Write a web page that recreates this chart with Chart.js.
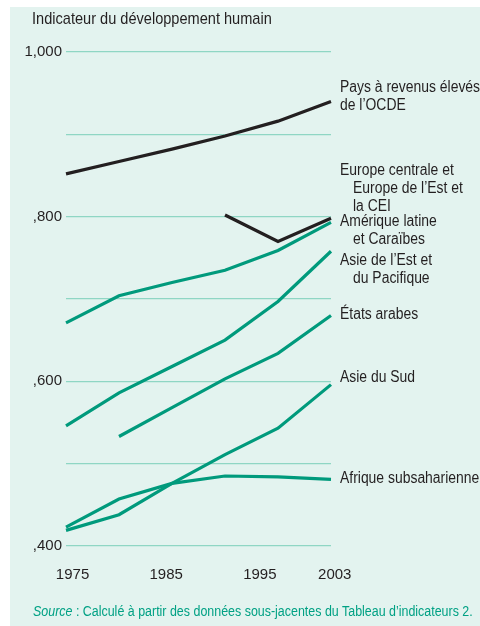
<!DOCTYPE html>
<html>
<head>
<meta charset="utf-8">
<script src="https://cdn.jsdelivr.net/npm/chart.js@4.4.1/dist/chart.umd.min.js"></script>
<style>
  html, body { margin: 0; padding: 0; background: #ffffff; }
  #wrap { position: relative; width: 480px; height: 626px; overflow: hidden; }
  #panel { position: absolute; left: 10px; top: 7px; width: 470px; height: 619px; background: #e3f3ef; }
  #chart { position: absolute; left: 0; top: 0; }
  .txt { position: absolute; font-family: "Liberation Sans", Arial, sans-serif; white-space: nowrap; transform-origin: 0 0; }
  #title { left: 32px; top: 9px; font-size: 17px; color: #231f20; }
  #source { left: 33px; top: 603px; font-size: 14px; color: #00a184; }
</style>
</head>
<body>
<div id="wrap">
  <div id="panel"></div>
  <canvas id="chart" width="480" height="626"></canvas>
  <div class="txt" id="title">Indicateur du développement humain</div>
  <div class="txt" id="source"><i>Source</i> : Calculé à partir des données sous-jacentes du Tableau d’indicateurs 2.</div>
</div>
<script>
// ---- Data ----
const years = ['1975', '1980', '1985', '1990', '1995', '2003'];
const shownYears = [1975, 1985, 1995, 2003];
const yTickValues = [0.4, 0.6, 0.8, 1.0];

const ocde          = [0.852, 0.867, 0.882, 0.898, 0.916, 0.940];
const europeCEI     = [null, null, null, 0.802, 0.770, 0.798];
const ameriqueLat   = [0.671, 0.704, 0.720, 0.735, 0.759, 0.793];
const asieEst       = [0.546, 0.586, 0.618, 0.650, 0.697, 0.758];
const etatsArabes   = [null, 0.533, 0.568, 0.603, 0.634, 0.680];
const asieSud       = [0.419, 0.438, 0.476, 0.511, 0.543, 0.596];
const afrique       = [0.423, 0.457, 0.476, 0.485, 0.484, 0.481];

const seriesNames = [
  ['Pays à revenus élevés', 'de l’OCDE'],
  ['Europe centrale et', 'Europe de l’Est et', 'la CEI'],
  ['Amérique latine', 'et Caraïbes'],
  ['Asie de l’Est et', 'du Pacifique'],
  ['États arabes'],
  ['Asie du Sud'],
  ['Afrique subsaharienne']
];

// ---- Styles / label layout (pixel offsets from each series' last point) ----
const BLACK = '#231f20';
const TEAL = '#009a7c';
const FONT = '"Liberation Sans", Arial, sans-serif';
const CONDENSE = 0.87;
const labelOffsets = [-14, -48, -1, 9, -1, -7, -1];
const labelIndent = [[0, 0], [0, 13, 13], [0, 13], [0, 13], [0], [0], [0]];

const allSeries = [ocde, europeCEI, ameriqueLat, asieEst, etatsArabes, asieSud, afrique];
const colors = [BLACK, BLACK, TEAL, TEAL, TEAL, TEAL, TEAL];

// condense the HTML title / source to the reference widths
function fitWidth(id, w) {
  const el = document.getElementById(id);
  el.style.transform = 'scaleX(' + (w / el.offsetWidth) + ')';
}
fitWidth('title', 240);
fitWidth('source', 440);

const labelPlugin = {
  id: 'endLabels',
  afterDatasetsDraw(chart) {
    const ctx = chart.ctx;
    const ys = chart.scales.y;
    const x0 = chart.chartArea.right + 9;
    ctx.save();
    ctx.font = '16px ' + FONT;
    ctx.fillStyle = BLACK;
    ctx.textBaseline = 'middle';
    ctx.textAlign = 'left';
    allSeries.forEach((s, i) => {
      const last = s[s.length - 1];
      const yBase = ys.getPixelForValue(last) + labelOffsets[i];
      seriesNames[i].forEach((line, j) => {
        ctx.save();
        ctx.translate(x0 + labelIndent[i][j], yBase + j * 18);
        ctx.scale(CONDENSE, 1);
        ctx.fillText(line, 0, 0);
        ctx.restore();
      });
    });
    ctx.restore();
  }
};

new Chart(document.getElementById('chart'), {
  type: 'line',
  data: {
    labels: years,
    datasets: allSeries.map((s, i) => ({
      data: s,
      borderColor: colors[i],
      borderWidth: 3.2,
      pointRadius: 0,
      tension: 0,
      fill: false,
      spanGaps: false
    }))
  },
  options: {
    responsive: false,
    devicePixelRatio: 1,
    animation: false,
    layout: { padding: { left: 0, top: 52, right: 149, bottom: 0 } },
    plugins: { legend: { display: false }, tooltip: { enabled: false } },
    scales: {
      x: {
        type: 'category',
        offset: false,
        display: false
      },
      // year labels axis (as placed in the reference, on a time-proportional scale)
      xYears: {
        type: 'linear',
        position: 'bottom',
        min: 1974.3,
        max: 2002.6,
        grid: { display: false },
        border: { display: false },
        afterFit: s => { s.height = 80; },
        afterBuildTicks: s => { s.ticks = shownYears.map(v => ({ value: v })); },
        ticks: {
          autoSkip: false,
          maxRotation: 0,
          padding: 12,
          color: BLACK,
          font: { family: FONT, size: 15 },
          callback: v => String(v)
        }
      },
      y: {
        min: 0.4,
        max: 1.0,
        afterFit: s => { s.width = 66; },
        grid: { color: '#8fd6c4', lineWidth: 1.3, drawTicks: false },
        border: { display: false },
        ticks: {
          stepSize: 0.1,
          padding: 4,
          color: BLACK,
          font: { family: FONT, size: 15 },
          callback: v => {
            const r = Math.round(v * 10) / 10;
            if (!yTickValues.some(t => Math.abs(t - r) < 1e-6)) return '';
            return r === 1 ? '1,000' : ',' + Math.round(r * 1000);
          }
        }
      }
    }
  },
  plugins: [labelPlugin]
});
</script>
</body>
</html>
